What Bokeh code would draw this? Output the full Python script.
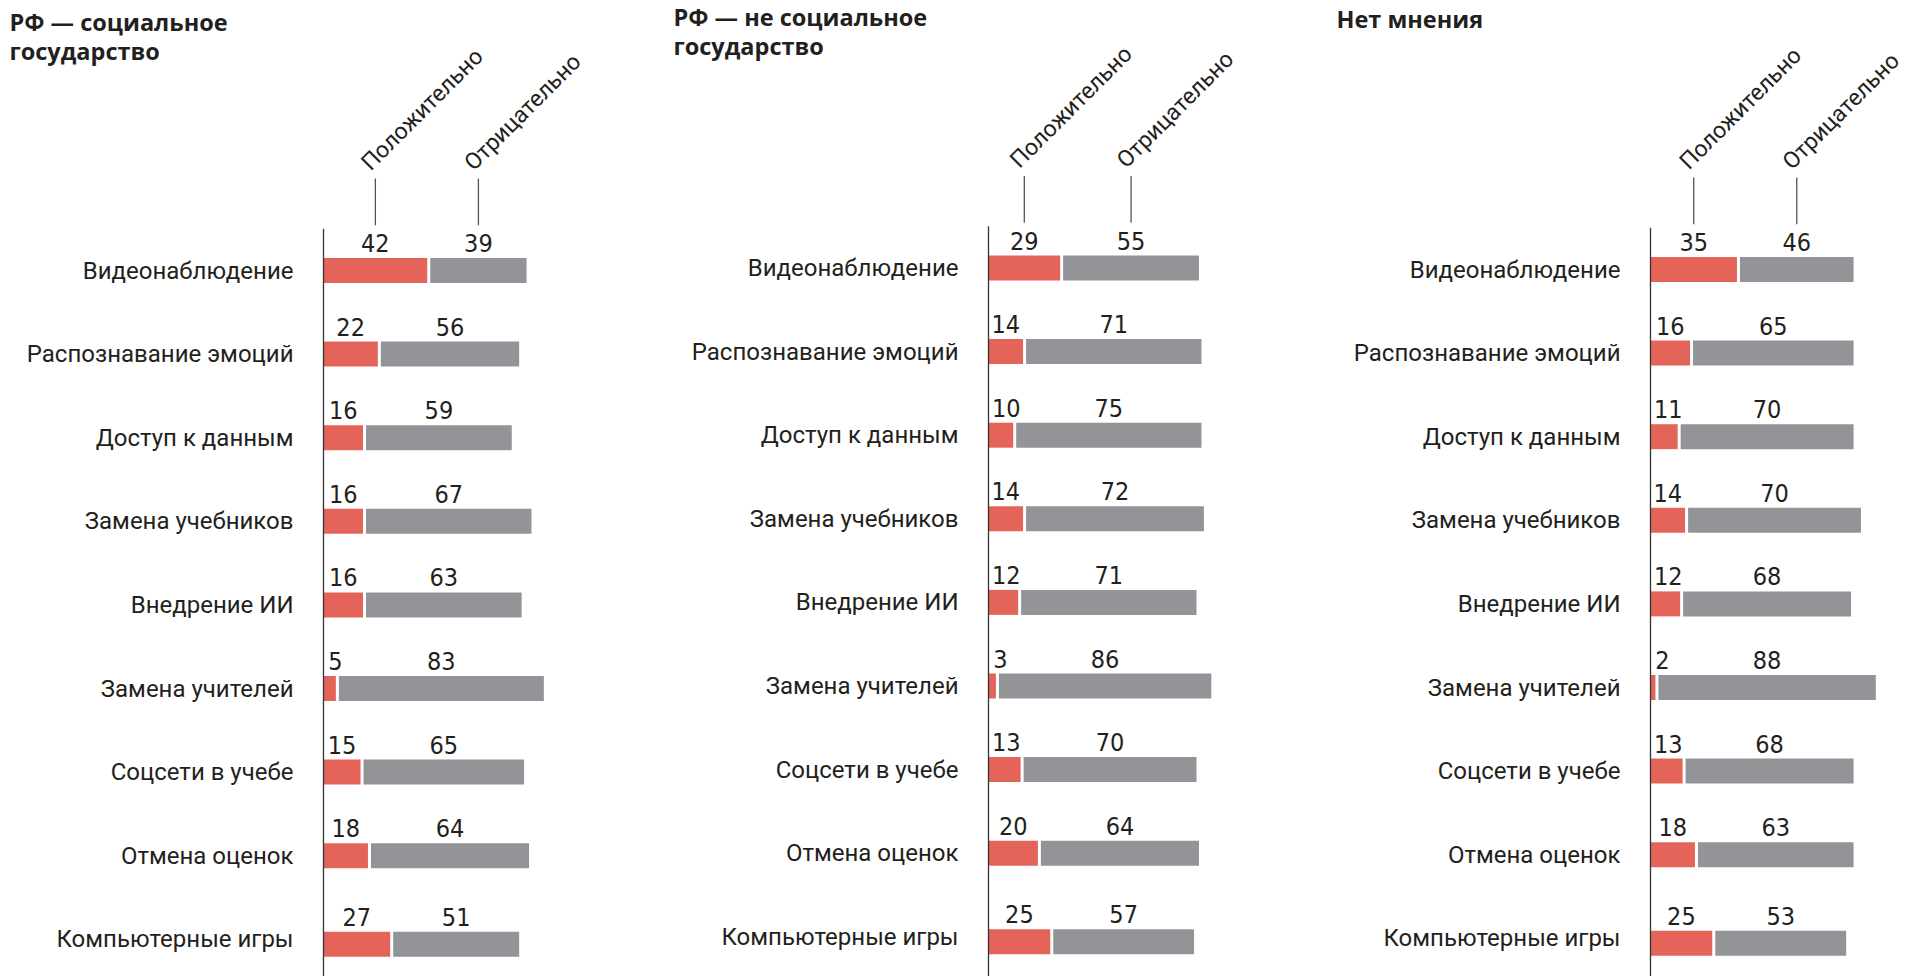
from bokeh.plotting import figure
from bokeh.layouts import row
from bokeh.models import Range1d, Label
from bokeh.core.properties import value
from bokeh.embed import file_html
from bokeh.resources import INLINE

categories = ["Видеонаблюдение", "Распознавание эмоций", "Доступ к данным",
              "Замена учебников", "Внедрение ИИ", "Замена учителей",
              "Соцсети в учебе", "Отмена оценок", "Компьютерные игры"]
header_labels = ["Положительно", "Отрицательно"]

title_social = ["РФ — социальное", "государство"]
title_nonsocial = ["РФ — не социальное", "государство"]
title_noopinion = ["Нет мнения"]

pos_social = [42, 22, 16, 16, 16, 5, 15, 18, 27]
neg_social = [39, 56, 59, 67, 63, 83, 65, 64, 51]
pos_nonsocial = [29, 14, 10, 14, 12, 3, 13, 20, 25]
neg_nonsocial = [55, 71, 75, 72, 71, 86, 70, 64, 57]
pos_noopinion = [35, 16, 11, 14, 12, 2, 13, 18, 25]
neg_noopinion = [46, 65, 70, 70, 68, 88, 68, 63, 53]

RED = "#E5645A"
GRAY = "#939497"
TEXT = "#231F20"
PX = 2.47          # pixels per percent
ROW_PX = 83.6      # pixels per row
H = 976
GAP = 3 / PX
BAR_H = 25 / ROW_PX
CAT_FONT = "Roboto"
NUM_FONT = "'DejaVu Sans Condensed', Roboto"
TITLE_FONT = "Open Sans"


def label_x(v, start):
    hw = len(str(v)) * 5.9
    c = v / 2 * PX
    if c - hw < 5:
        c = 6 + hw
    return start + c / PX


def panel(titles, pos, neg, width, axis_px, row0_px, title_x, title_top):
    x0 = -axis_px / PX
    x1 = x0 + width / PX
    y1 = row0_px / ROW_PX
    y0 = y1 - H / ROW_PX
    p = figure(width=width, height=H, x_range=Range1d(x0, x1), y_range=Range1d(y0, y1),
               output_backend="svg", toolbar_location=None, min_border=0,
               min_border_left=0, min_border_right=0, min_border_top=0, min_border_bottom=0)
    p.axis.visible = False
    p.grid.visible = False
    p.outline_line_color = None
    p.background_fill_color = "white"
    p.border_fill_color = "white"

    n = len(categories)
    cat_ys = [-i for i in range(n)]
    ys = [-(i + (0.06 if i == n - 1 else 0)) for i in range(n)]

    p.hbar(y=ys, left=0, right=pos, height=BAR_H, fill_color=RED, line_color=None)
    gl = [v + GAP for v in pos]
    gr = [v + GAP + w for v, w in zip(pos, neg)]
    p.hbar(y=ys, left=gl, right=gr, height=BAR_H, fill_color=GRAY, line_color=None)

    # axis line
    p.segment(x0=[0], y0=[0.5], x1=[0], y1=[y0], line_color="#333333", line_width=1.3)

    # values
    rx = [label_x(v, 0) for v in pos]
    gx = [g + w / 2 for g, w in zip(gl, neg)]
    ly = [y + BAR_H / 2 for y in ys]
    p.text(x=rx + gx, y=ly + ly, text=[str(v) for v in pos] + [str(v) for v in neg],
           text_align="center", text_baseline="middle", y_offset=-15,
           text_font=value(NUM_FONT), text_font_size="25px", text_color=TEXT)

    # categories
    p.text(x=[0] * n, y=cat_ys, text=categories, x_offset=-30, text_align="right",
           text_baseline="middle", text_font=value(CAT_FONT), text_font_size="24px",
           text_color=TEXT)

    # header ticks and rotated labels
    tx = [rx[0], gx[0]]
    p.segment(x0=tx, y0=[0.54] * 2, x1=tx, y1=[1.10] * 2, line_color="#555555", line_width=1.3)
    p.text(x=tx, y=[1.10] * 2, text=header_labels, angle=45, angle_units="deg",
           x_offset=-10, y_offset=-12, text_align="left", text_baseline="alphabetic",
           text_font=value(CAT_FONT), text_font_size="23px", text_color=TEXT)

    for k, t in enumerate(titles):
        p.add_layout(Label(x=title_x, y=H - title_top - k * 29.5, x_units="screen", y_units="screen",
                           text=t, text_baseline="top", text_align="left",
                           text_font=TITLE_FONT, text_font_style="bold",
                           text_font_size="23.5px", text_color=TEXT))
    return p


p1 = panel(title_social, pos_social, neg_social, 668, 323, 270, 9, 5)
p2 = panel(title_nonsocial, pos_nonsocial, neg_nonsocial, 662, 320, 267.5, 5, 0)
p3 = panel(title_noopinion, pos_noopinion, neg_noopinion, 594, 320, 269, 6, 2)

layout = row(p1, p2, p3, spacing=0)
open("out.html", "w").write(file_html(layout, INLINE))
